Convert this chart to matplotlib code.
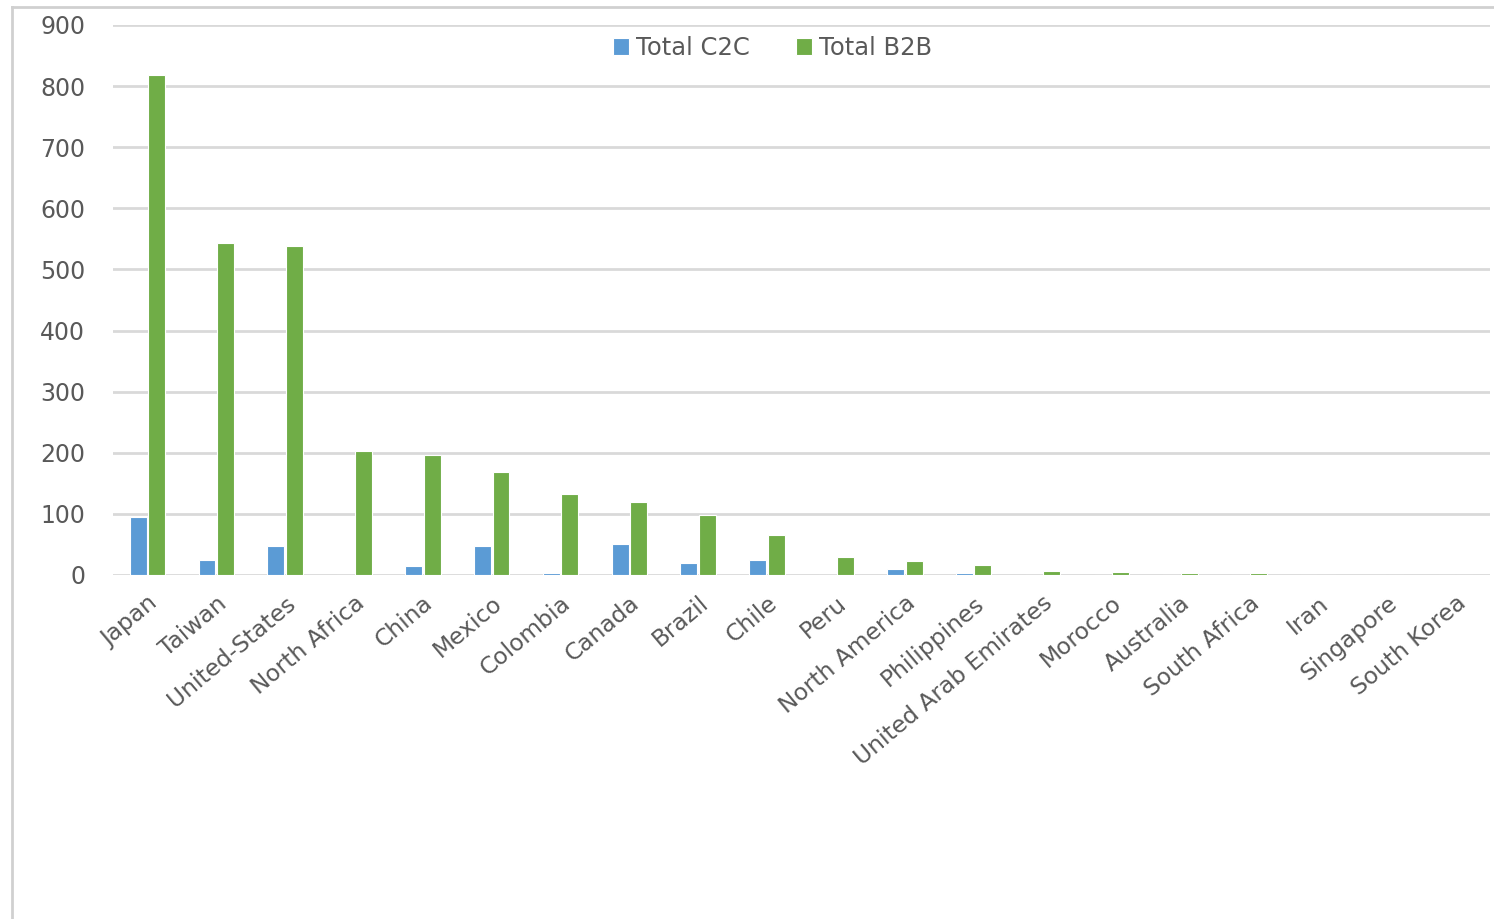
import numpy as np
import matplotlib.pyplot as plt
from matplotlib.lines import Line2D

countries = ['Japan', 'Taiwan', 'United-States', 'North Africa', 'China', 'Mexico',
             'Colombia', 'Canada', 'Brazil', 'Chile', 'Peru', 'North America',
             'Philippines', 'United Arab Emirates', 'Morocco', 'Australia',
             'South Africa', 'Iran', 'Singapore', 'South Korea']
c2c = [95, 24, 48, 0, 15, 48, 4, 50, 19, 24, 0, 10, 3, 0, 0, 0, 0, 0, 0, 0]
b2b = [818, 543, 538, 203, 197, 169, 132, 119, 99, 66, 30, 23, 17, 7, 5, 3, 3, 0, 0, 0]
yticks = [0, 100, 200, 300, 400, 500, 600, 700, 800, 900]

plt.rcParams['font.family'] = ['DejaVu Sans']
txt = '#595959'

fig = plt.figure(figsize=(14.94, 9.19), dpi=100)
ax = fig.add_axes([113/1494, 1-575/919, 1377/1494, 550/919])

x = np.arange(len(countries))
w = 0.245
ax.bar(x - 0.135, c2c, w, color='#5B9BD5', edgecolor='white', linewidth=0.8,
       label='Total C2C', zorder=3)
ax.bar(x + 0.135, b2b, w, color='#70AD47', edgecolor='white', linewidth=0.8,
       label='Total B2B', zorder=3)

ax.set_xlim(-0.5, len(countries) - 0.5)
ax.set_ylim(0, 900)
ax.set_yticks(yticks)
ax.set_yticklabels([str(v) for v in yticks], fontsize=17, color=txt)
ax.yaxis.grid(True, color='#D9D9D9', linewidth=2, zorder=0)
ax.tick_params(axis='both', length=0)
ax.tick_params(axis='y', pad=20)
ax.set_xticks(x)
ax.set_xticklabels(countries, rotation=40, ha='right', rotation_mode='anchor',
                   fontsize=16.8, color=txt)
ax.tick_params(axis='x', pad=12)
for s in ax.spines.values():
    s.set_visible(False)

ax.legend(loc='center', bbox_to_anchor=(0.479, 0.958), ncol=2, frameon=False,
          fontsize=17.5, labelcolor=txt, handlelength=0.65, handleheight=0.65,
          handletextpad=0.3, columnspacing=1.9)

# chart frame
fig.add_artist(Line2D([12/1494, 12/1494], [0, 1-7/919], transform=fig.transFigure,
                      color='#D0D0D0', linewidth=2))
fig.add_artist(Line2D([12/1494, 1], [1-7/919, 1-7/919], transform=fig.transFigure,
                      color='#D0D0D0', linewidth=2))

fig.savefig('out.png', dpi=100)
